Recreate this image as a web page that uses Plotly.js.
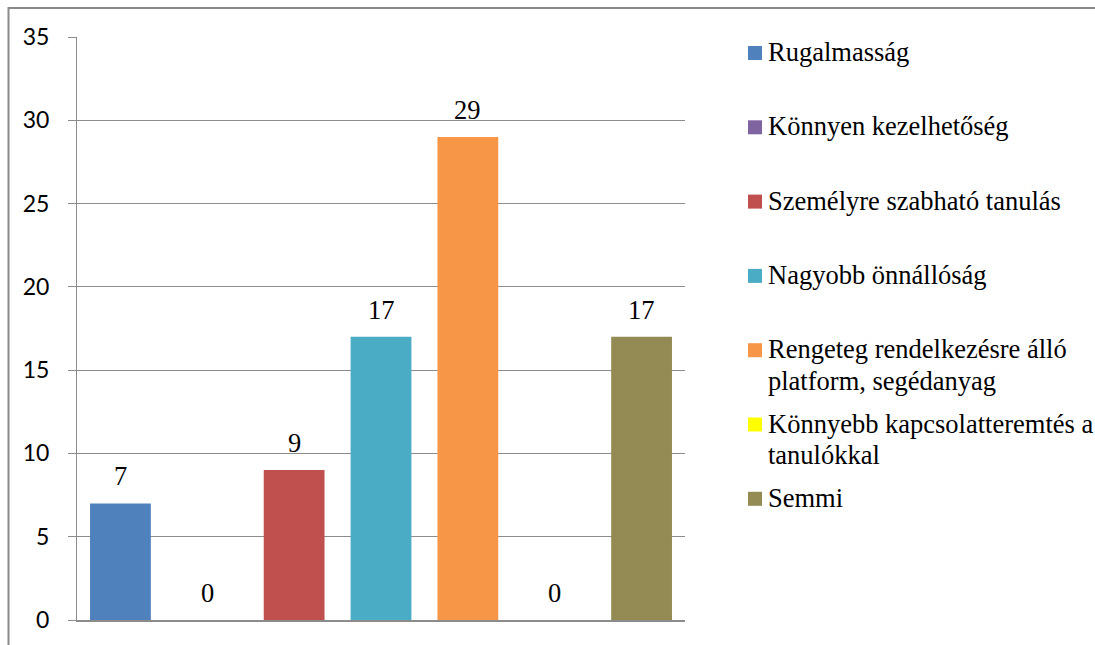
<!DOCTYPE html>
<html>
<head>
<meta charset="utf-8">
<script src="https://cdn.plot.ly/plotly-3.0.1.min.js"></script>
<style>html,body{margin:0;padding:0;background:#fff;}#chart{width:1095px;height:645px;}</style>
</head>
<body>
<div id="chart"></div>
<script>
// ---- data ----
const categories = [
  'Rugalmasság',
  'Könnyen kezelhetőség',
  'Személyre szabható tanulás',
  'Nagyobb önnállóság',
  'Rengeteg rendelkezésre álló platform, segédanyag',
  'Könnyebb kapcsolatteremtés a tanulókkal',
  'Semmi'
];
const legendLabels = [
  'Rugalmasság',
  'Könnyen kezelhetőség',
  'Személyre szabható tanulás',
  'Nagyobb önnállóság',
  'Rengeteg rendelkezésre álló<br>platform, segédanyag',
  'Könnyebb kapcsolatteremtés a<br>tanulókkal',
  'Semmi'
];
const values = [7, 0, 9, 17, 29, 0, 17];
const colors = ['#4F81BD', '#8064A2', '#C0504D', '#4BACC6', '#F79646', '#FFFF00', '#948A54'];
const yTicks = [0, 5, 10, 15, 20, 25, 30, 35];

// ---- layout geometry (pixels) ----
const W = 1095, H = 645;
const L = 77, R = 685, T = 37, B = 620;
const px2x = p => (p - L) / (R - L);
const py2y = p => (B - p) / (B - T);
const SERIF = 'Liberation Serif';
const SANS = 'Lato';

const traces = categories.map((c, i) => ({
  type: 'bar',
  x: [c],
  y: [values[i]],
  name: c,
  marker: {color: colors[i], line: {width: 0}},
  width: 0.7,
  showlegend: false,
  hoverinfo: 'x+y'
}));

const annotations = [];
categories.forEach((c, i) => {
  annotations.push({
    x: c, y: values[i], xref: 'x', yref: 'y',
    text: String(values[i]), showarrow: false,
    xanchor: 'center', yanchor: 'bottom', yshift: 10,
    font: {family: SERIF, size: 26.5, color: '#000'}
  });
});

const shapes = [];
shapes.push({
  type: 'rect', xref: 'paper', yref: 'paper',
  x0: px2x(8.5), x1: px2x(W + 20), y0: py2y(8), y1: py2y(H + 20),
  line: {color: '#8a8a8a', width: 2}, fillcolor: 'rgba(0,0,0,0)', layer: 'below'
});

const legendStep = 74.3, firstBase = 61, lineStep = 31.5;
legendLabels.forEach((lab, i) => {
  const base = firstBase + i * legendStep;
  const lines = lab.split('<br>');
  lines.forEach((ln, k) => {
    annotations.push({
      xref: 'paper', yref: 'paper',
      x: px2x(766), y: py2y(base + k * lineStep - 9),
      text: ln, showarrow: false, xanchor: 'left', yanchor: 'middle',
      font: {family: SERIF, size: 26.5, color: '#000'}
    });
  });
  shapes.push({
    type: 'rect', xref: 'paper', yref: 'paper',
    x0: px2x(748), x1: px2x(762), y0: py2y(base - 1), y1: py2y(base - 15),
    line: {width: 0}, fillcolor: colors[i]
  });
});

const layout = {
  width: W, height: H,
  margin: {l: L, r: W - R, t: T, b: H - B, pad: 0},
  paper_bgcolor: '#fff', plot_bgcolor: '#fff',
  barmode: 'overlay',
  showlegend: false,
  font: {family: SANS},
  xaxis: {
    type: 'category', categoryorder: 'array', categoryarray: categories,
    range: [-0.5, categories.length - 0.5],
    showticklabels: false, ticks: '', showgrid: false, zeroline: false,
    showline: true, linecolor: '#8c8c8c', linewidth: 1.5, fixedrange: true
  },
  yaxis: {
    range: [0, 35], tickvals: yTicks, ticktext: yTicks.map(String),
    showgrid: true, gridcolor: '#8c8c8c', gridwidth: 1,
    zeroline: false, showline: true, linecolor: '#8c8c8c', linewidth: 1,
    ticks: 'outside', ticklen: 8, tickcolor: '#8c8c8c', tickwidth: 1,
    ticklabelstandoff: 14,
    tickfont: {family: SANS, size: 23, color: '#000'},
    fixedrange: true
  },
  annotations: annotations,
  shapes: shapes
};

Plotly.newPlot('chart', traces, layout, {displayModeBar: false, staticPlot: true});
</script>
</body>
</html>
